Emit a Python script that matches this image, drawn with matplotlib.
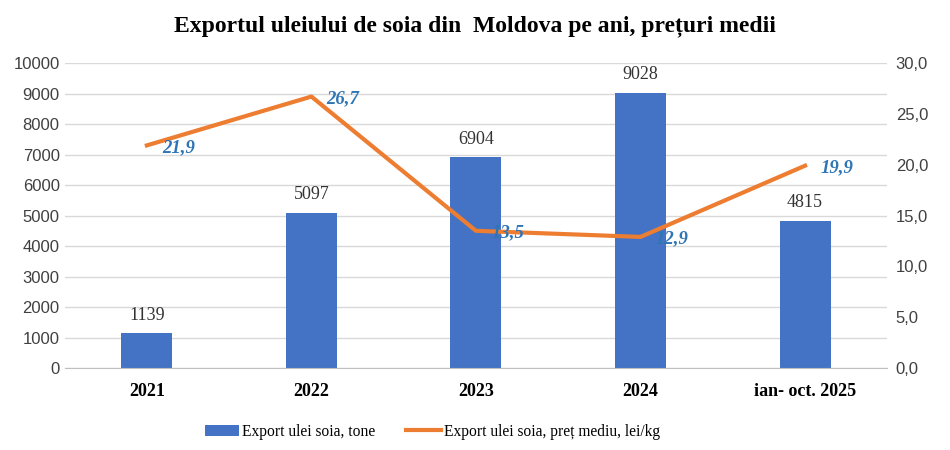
import matplotlib.pyplot as plt
import numpy as np

years = ['2021', '2022', '2023', '2024', 'ian- oct. 2025']
tone = [1139, 5097, 6904, 9028, 4815]
pret = [21.9, 26.7, 13.5, 12.9, 19.9]

serif = ['Liberation Serif', 'DejaVu Serif']
sans = ['Liberation Sans', 'DejaVu Sans']

fig = plt.figure(figsize=(9.5, 4.5), dpi=100)
ax = fig.add_axes([0.068, 0.182, 0.866, 0.678])
ax2 = ax.twinx()

x = np.arange(len(years))
bars = ax.bar(x, tone, width=0.31, color='#4472C4', zorder=2, label='Export ulei soia, tone')
for xi, v in zip(x, tone):
    ax.text(xi, v + 320, str(v), ha='center', va='bottom', fontsize=13, family=serif, color='#333333')

ax.set_ylim(0, 10000)
ax.set_yticks(range(0, 10001, 1000))
ax.set_xlim(-0.5, len(years) - 0.5)
ax.set_xticks(x)
ax.set_xticklabels(years, family=serif, fontsize=13, fontweight='bold')
ax.grid(axis='y', color='#d9d9d9', linewidth=1, zorder=0)
ax.set_axisbelow(True)
for s in ['top', 'left', 'right']:
    ax.spines[s].set_visible(False)
ax.spines['bottom'].set_color('#bfbfbf')
ax.tick_params(axis='both', length=0)
ax.tick_params(axis='x', pad=11)
for lab in ax.get_yticklabels():
    lab.set_family(sans)
    lab.set_fontsize(12)
    lab.set_color('#404040')

line, = ax2.plot(x, pret, color='#ED7D31', linewidth=3, zorder=3, label='Export ulei soia, preț mediu, lei/kg')
for xi, v in zip(x, pret):
    ax2.annotate(f'{v:.1f}'.replace('.', ','), (xi, v), xytext=(11, -1.5), textcoords='offset points',
                 ha='left', va='center', fontsize=13.5, family=serif, fontweight='bold',
                 fontstyle='italic', color='#2E75B6', zorder=5)
ax2.set_ylim(0, 30)
ax2.set_yticks(np.arange(0, 30.1, 5))
ax2.set_yticklabels([f'{t:.1f}'.replace('.', ',') for t in np.arange(0, 30.1, 5)])
for s in ['top', 'left', 'right', 'bottom']:
    ax2.spines[s].set_visible(False)
ax2.tick_params(axis='y', length=0, pad=6)
for lab in ax2.get_yticklabels():
    lab.set_family(sans)
    lab.set_fontsize(12)
    lab.set_color('#404040')

fig.suptitle('Exportul uleiului de soia din  Moldova pe ani, prețuri medii', y=0.965,
             family=serif, fontsize=17, fontweight='bold')

fig.legend(handles=[bars, line], loc='lower center', bbox_to_anchor=(0.455, -0.008), ncol=2,
           frameon=False, prop={'family': serif, 'size': 11.2}, handlelength=2.2,
           handletextpad=0.2, columnspacing=2.0)

fig.savefig('out.png', dpi=100)
